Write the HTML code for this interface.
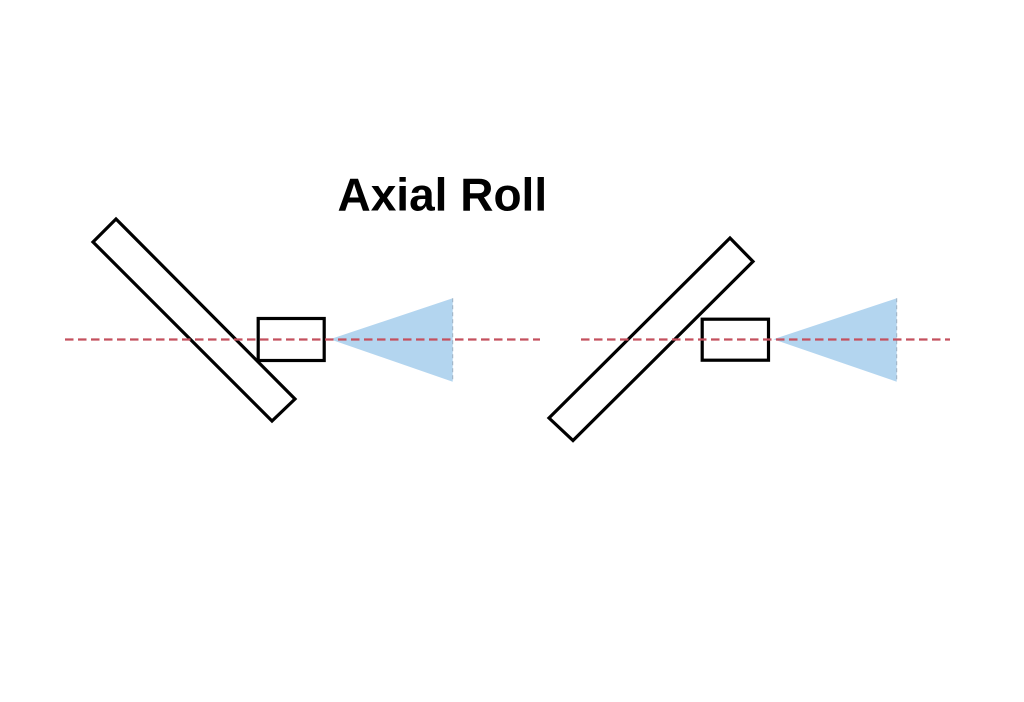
<!DOCTYPE html>
<html>
<head>
<meta charset="utf-8">
<style>
html,body{margin:0;padding:0;background:#fff;}
svg{display:block;}
</style>
</head>
<body>
<svg width="1024" height="702" viewBox="0 0 1024 702" xmlns="http://www.w3.org/2000/svg">
  <rect x="0" y="0" width="1024" height="702" fill="#ffffff"/>
  <text x="337.5" y="210.5" font-family="Liberation Sans, Arial, sans-serif" font-weight="bold" font-size="46" fill="#000">Axial Roll</text>

  <!-- Left figure -->
  <polygon points="93,242 116,219 295,399 272,421" fill="#fff" stroke="#000" stroke-width="3.2" stroke-linejoin="miter"/>
  <rect x="258.2" y="318.5" width="66" height="42" fill="#fff" stroke="#000" stroke-width="3.2"/>
  <polygon points="330,339.3 452.7,298.3 452.7,381.7" fill="#b3d5ef"/>
  <line x1="452.7" y1="298.3" x2="452.7" y2="381.7" stroke="#9fb1c2" stroke-width="1" stroke-dasharray="4,3"/>
  <line x1="65" y1="339.5" x2="540" y2="339.5" stroke="#c4505e" stroke-width="2.2" stroke-dasharray="8.5,4.5"/>

  <!-- Right figure -->
  <polygon points="549,418 730,238 753,261.5 573,440.5" fill="#fff" stroke="#000" stroke-width="3.2" stroke-linejoin="miter"/>
  <rect x="702.2" y="319.2" width="66.3" height="41" fill="#fff" stroke="#000" stroke-width="3.2"/>
  <polygon points="773.3,339.3 896.7,298.3 896.7,381.7" fill="#b3d5ef"/>
  <line x1="896.7" y1="298.3" x2="896.7" y2="381.7" stroke="#9fb1c2" stroke-width="1" stroke-dasharray="4,3"/>
  <line x1="581" y1="339.5" x2="950" y2="339.5" stroke="#c4505e" stroke-width="2.2" stroke-dasharray="8.5,4.5"/>
</svg>
</body>
</html>
